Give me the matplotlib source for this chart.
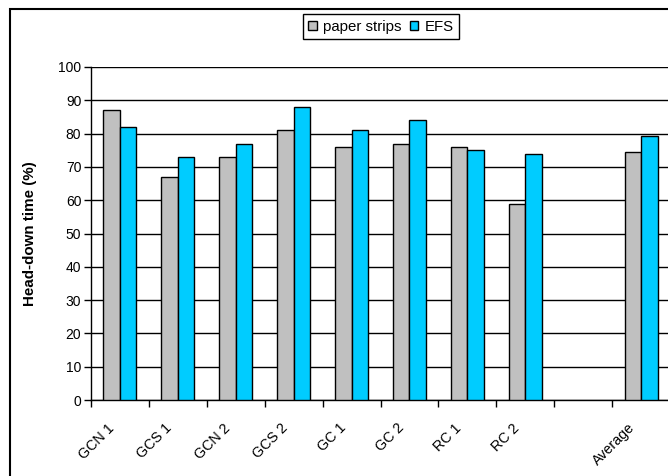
import numpy as np
import matplotlib.pyplot as plt
import matplotlib.transforms as mtransforms
from matplotlib.patches import Rectangle

plt.rcParams['font.family'] = ['Liberation Sans', 'DejaVu Sans']

categories = ['GCN 1', 'GCS 1', 'GCN 2', 'GCS 2', 'GC 1', 'GC 2', 'RC 1', 'RC 2', '', 'Average']
paper = [87, 67, 73, 81, 76, 77, 76, 59, np.nan, 74.5]
efs = [82, 73, 77, 88, 81, 84, 75, 74, np.nan, 79.3]

fig = plt.figure(figsize=(6.68, 4.76), dpi=100)
ax = fig.add_axes([91/668, 1-400/476, 579/668, 333/476])

x = np.arange(len(categories)) + 0.5
w = 0.285
ax.bar(x - w/2, paper, w, color='#C0C0C0', edgecolor='black', linewidth=1, label='paper strips', zorder=3)
ax.bar(x + w/2, efs, w, color='#00CCFF', edgecolor='black', linewidth=1, label='EFS', zorder=3)

ax.set_xlim(0, len(categories))
ax.set_ylim(0, 100)
ax.set_yticks(np.arange(0, 101, 10))
ax.yaxis.grid(True, color='black', linewidth=1)
ax.set_axisbelow(True)

ax.set_xticks(np.arange(len(categories) + 1))
ax.set_xticklabels([])
ax.set_xticks(x, minor=True)
ax.set_xticklabels(categories, minor=True, rotation=45, ha='right', va='top',
                   rotation_mode='anchor', fontsize=10.3)
ax.tick_params(axis='x', which='minor', length=0, pad=15)
ax.tick_params(axis='x', which='major', length=5, width=1, direction='out')
ax.tick_params(axis='y', length=5, width=1, labelsize=10, pad=2)

# shift the rotated labels left, like in the original
shift = mtransforms.ScaledTranslation(-13/100, 0, fig.dpi_scale_trans)
for lab in ax.get_xticklabels(minor=True):
    lab.set_transform(lab.get_transform() + shift)

for s in ['top', 'right']:
    ax.spines[s].set_visible(False)
ax.spines['left'].set_linewidth(1)
ax.spines['bottom'].set_linewidth(1)

ax.set_ylabel('Head-down time (%)', fontsize=10.9, fontweight='bold')
ax.yaxis.set_label_coords((37-91)/579, 0.5)

leg = fig.legend(loc='center', bbox_to_anchor=(381/668, 1-26.7/476), ncol=2,
                 fontsize=10.8, handlelength=0.55, handleheight=0.55, handletextpad=0.4,
                 columnspacing=0.6, borderpad=0.35, borderaxespad=0, fancybox=False, framealpha=1)
leg.get_frame().set_edgecolor('black')
leg.get_frame().set_linewidth(1)

fig.patches.append(Rectangle((10/668, -0.2), 1.2, 1.2 - 9/476,
                             transform=fig.transFigure, fill=False,
                             edgecolor='black', linewidth=1.5))

fig.savefig('out.png', dpi=100)
